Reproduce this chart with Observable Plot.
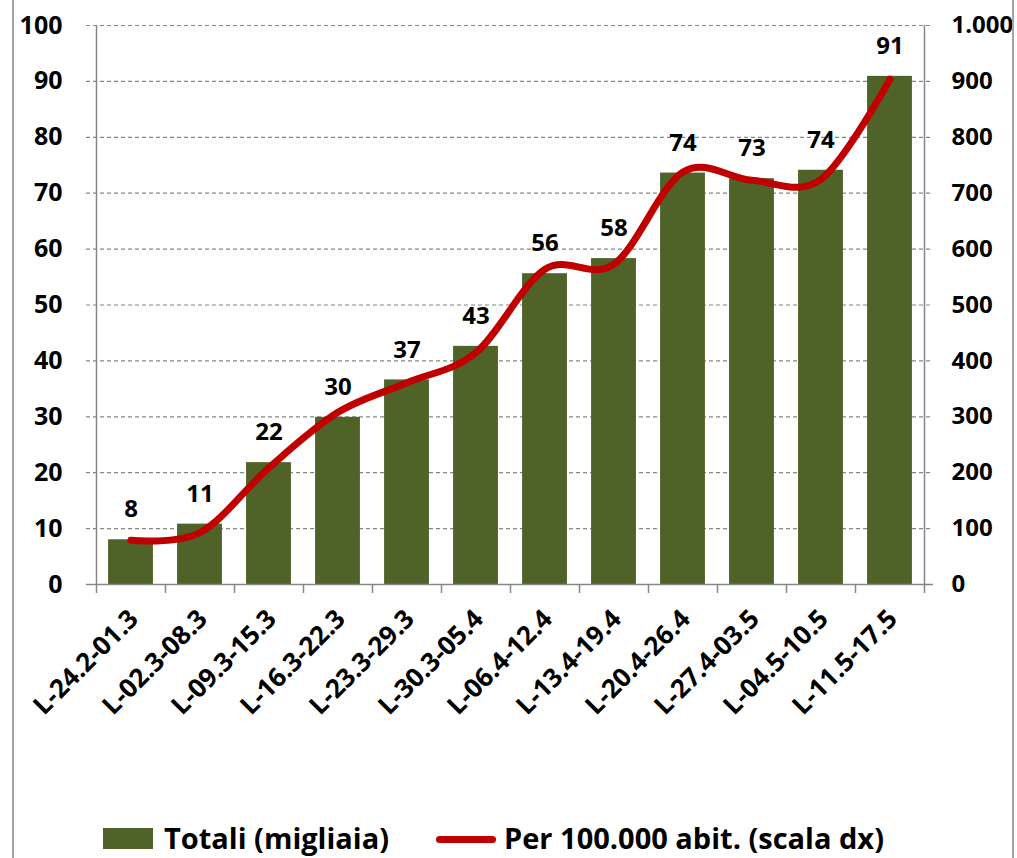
<!DOCTYPE html>
<html>
<head>
<meta charset="utf-8">
<script src="https://cdn.jsdelivr.net/npm/d3@7"></script>
<script src="https://cdn.jsdelivr.net/npm/@observablehq/plot@0.6"></script>
<style>
  html, body { margin: 0; padding: 0; background: #fff; }
  #wrap { position: relative; width: 1017px; height: 858px; overflow: hidden; font-family: "Open Sans", Lato, sans-serif; }
  #border { position: absolute; left: 12px; top: -5px; width: 1002px; height: 870px; border-left: 2px solid #a6a6a6; border-right: 2px solid #a6a6a6; box-sizing: border-box; pointer-events: none; }
  #chart { position: absolute; left: 0; top: 0; }
  #legend { position: absolute; left: 0; top: 0; width: 1017px; height: 858px; font-size: 29px; font-weight: bold; color: #000; pointer-events: none; }
  .sw { position: absolute; }
  .lt { position: absolute; top: 823px; line-height: 30px; white-space: nowrap; }
</style>
</head>
<body>
<div id="wrap">
  <div id="chart"></div>
  <div id="legend"></div>
  <div id="border"></div>
</div>
<script>
// ---- data ----
const categories = ["L-24.2-01.3","L-02.3-08.3","L-09.3-15.3","L-16.3-22.3","L-23.3-29.3","L-30.3-05.4","L-06.4-12.4","L-13.4-19.4","L-20.4-26.4","L-27.4-03.5","L-04.5-10.5","L-11.5-17.5"];
const totals = [8.0, 10.8, 21.8, 29.9, 36.6, 42.6, 55.6, 58.3, 73.6, 72.6, 74.1, 90.9];   // Totali (migliaia)
const per100k = [79, 93, 209, 308, 361, 415, 564, 573, 738, 723, 725, 904];                 // Per 100.000 abit. (scala dx)
const leftTicks = [0, 10, 20, 30, 40, 50, 60, 70, 80, 90, 100];
const rightTicks = [0, 100, 200, 300, 400, 500, 600, 700, 800, 900, 1000];
const seriesNames = ["Totali (migliaia)", "Per 100.000 abit. (scala dx)"];

const barColor = "#4F6228";
const lineColor = "#C00000";
const axisColor = "#868686";
const rightRatio = 10; // right scale / left scale

const itFormat = d3.formatLocale({decimal: ",", thousands: ".", grouping: [3], currency: ["", " €"]}).format(",");

const data = categories.map((c, i) => ({i, cat: c, total: totals[i], rate: per100k[i]}));
const nCat = categories.length;

const chart = Plot.plot({
  width: 1017,
  height: 760,
  marginLeft: 96,
  marginRight: 93,
  marginTop: 25,
  marginBottom: 176,
  style: {fontFamily: "'Open Sans', Lato, sans-serif", fontWeight: "bold", color: "#000", background: "transparent", overflow: "visible"},
  x: {type: "linear", domain: [0, nCat], label: null},
  y: {domain: [0, 100], label: null},
  marks: [
    // dashed gridlines
    Plot.ruleY(leftTicks.filter(d => d > 0), {stroke: axisColor, strokeDasharray: "4,3", strokeWidth: 1.2, insetLeft: -10, insetRight: -9}),
    // bars
    Plot.rectY(data, {x1: d => d.i + 0.175, x2: d => d.i + 0.825, y: "total", fill: barColor}),
    // axis lines
    Plot.ruleY([0], {stroke: axisColor, strokeWidth: 1.5, insetLeft: -10, insetRight: -9}),
    Plot.ruleX([0, nCat], {stroke: axisColor, strokeWidth: 1.5}),
    // x boundary ticks
    Plot.axisX({ticks: d3.range(0, nCat + 1), tickSize: 9, tickFormat: () => "", stroke: axisColor, strokeWidth: 1.5, label: null}),
    // x labels
    Plot.axisX({ticks: d3.range(nCat).map(i => i + 0.5), tickSize: 0, tickPadding: 30, tickRotate: -45, tickFormat: t => categories[Math.round(t - 0.5)], fontSize: 26, fill: "#000", dx: 3, label: null}),
    // left y labels
    Plot.axisY({ticks: leftTicks, tickSize: 0, tickPadding: 34, fontSize: 25, fill: "#000", label: null}),
    // right y labels
    Plot.axisY({anchor: "right", ticks: rightTicks.map(v => v / rightRatio), tickSize: 0, tickPadding: 27, fontSize: 24, fill: "#000", tickFormat: d => itFormat(d * rightRatio), label: null}),
    // line (right scale)
    Plot.line(data, {x: d => d.i + 0.5, y: d => d.rate / rightRatio, stroke: lineColor, strokeWidth: 7, curve: "cardinal", strokeLinecap: "round", strokeLinejoin: "round"}),
    // value labels
    Plot.text(data, {x: d => d.i + 0.5, y: "total", text: d => String(Math.round(d.total)), dy: -30, fontSize: 24, fontWeight: "bold", fill: "#000"})
  ]
});
document.getElementById("chart").appendChild(chart);

// legend
const lg = document.getElementById("legend");
lg.innerHTML = `
  <div class="sw" style="left:103px; top:828px; width:50px; height:21px; background:${barColor}"></div>
  <div class="lt" style="left:164px">${seriesNames[0]}</div>
  <div class="sw" style="left:436px; top:836px; width:60px; height:7px; border-radius:4px; background:${lineColor}"></div>
  <div class="lt" style="left:504px">${seriesNames[1]}</div>
`;
</script>
</body>
</html>
